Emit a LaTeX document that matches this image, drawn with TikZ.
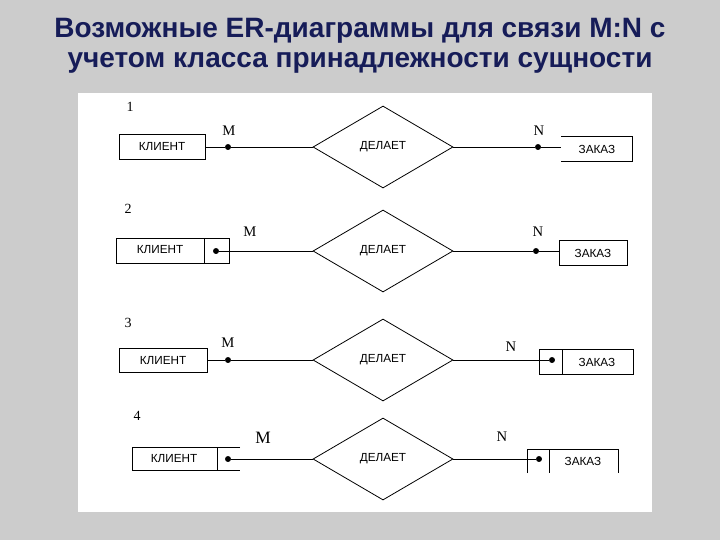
\documentclass[tikz,border=0pt]{standalone}
\usepackage{fontspec}
\setmainfont{Liberation Sans}
\newfontfamily\numfont{Liberation Serif}
\usetikzlibrary{shapes.geometric}
\definecolor{titleblue}{RGB}{22,28,88}
\definecolor{marble}{RGB}{204,204,204}

\begin{document}
\begin{tikzpicture}[x=0.75pt,y=-0.75pt,
	ent/.style={font=\fontsize{8.8}{10}\selectfont},
	rel/.style={diamond,draw,line width=0.6pt,minimum width=105pt,minimum height=61.5pt,inner sep=0pt,font=\fontsize{8.8}{10}\selectfont},
	dotpt/.style={circle,draw,fill,inner sep=0pt,minimum size=4pt},
	card/.style={font=\numfont\fontsize{11}{12}\selectfont},
	num/.style={font=\numfont\fontsize{10.5}{12}\selectfont},
	wire/.style={line width=0.6pt},
	heading/.style={font=\fontsize{21}{24}\bfseries\selectfont,text=titleblue}
]

	\useasboundingbox (0,0) rectangle (720,540);
	\fill[marble] (0,0) rectangle (720,540);
	\fill[white] (78,93) rectangle (652,512);

	\node[heading] at (360,31) (t1) {Возможные ER-диаграммы для связи M:N с};
	\node[heading] at (360,63) (t2) {учетом класса принадлежности сущности};

	\node[num] at (130,107) (n1) {1};
	\draw[wire] (119,134) rectangle (205,159);
	\node[ent] at (162,147) (k1) {КЛИЕНТ};
	\coordinate (k1e) at (205,147);
	\node[dotpt] at (228,147) (dm1) {};
	\node[card] at (229,131) (cm1) {M};
	\node[rel] at (383,147) (r1) {ДЕЛАЕТ};
	\node[dotpt] at (538,147) (dn1) {};
	\node[card] at (539,131) (cn1) {N};
	\coordinate (z1w) at (561,147);
	\draw[wire] (561,136) -- (632,136) -- (632,161) -- (561,161);
	\node[ent] at (597,149) (z1) {ЗАКАЗ};
	\draw[wire] (k1e) -- (dm1) -- (r1.west);
	\draw[wire] (r1.east) -- (dn1) -- (z1w);

	\node[num] at (128,209) (n2) {2};
	\draw[wire] (116,238) rectangle (229,263);
	\draw[wire] (204,238) -- (204,263);
	\node[ent] at (160,250) (k2) {КЛИЕНТ};
	\node[dotpt] at (216,251) (dm2) {};
	\node[card] at (250,232) (cm2) {M};
	\node[rel] at (383,251) (r2) {ДЕЛАЕТ};
	\node[dotpt] at (536,251) (dn2) {};
	\node[card] at (538,232) (cn2) {N};
	\coordinate (z2w) at (559,251);
	\draw[wire] (559,240) rectangle (627,265);
	\node[ent] at (593,253) (z2) {ЗАКАЗ};
	\draw[wire] (dm2) -- (r2.west);
	\draw[wire] (r2.east) -- (dn2) -- (z2w);

	\node[num] at (128,323) (n3) {3};
	\draw[wire] (119,348) rectangle (207,372);
	\node[ent] at (163,360) (k3) {КЛИЕНТ};
	\coordinate (k3e) at (207,360);
	\node[dotpt] at (228,360) (dm3) {};
	\node[card] at (228,343) (cm3) {M};
	\node[rel] at (383,360) (r3) {ДЕЛАЕТ};
	\node[dotpt] at (552,360) (dn3) {};
	\node[card] at (511,347) (cn3) {N};
	\draw[wire] (539,349) rectangle (633,374);
	\draw[wire] (562,349) -- (562,374);
	\node[ent] at (597,362) (z3) {ЗАКАЗ};
	\draw[wire] (k3e) -- (dm3) -- (r3.west);
	\draw[wire] (r3.east) -- (dn3);

	\node[num] at (137,416) (n4) {4};
	\draw[wire] (240,447) -- (132,447) -- (132,470) -- (240,470);
	\draw[wire] (217,447) -- (217,470);
	\node[ent] at (174,458) (k4) {КЛИЕНТ};
	\node[dotpt] at (228,459) (dm4) {};
	\node[card,font=\numfont\fontsize{13}{14}\selectfont] at (263,438) (cm4) {M};
	\node[rel] at (383,459) (r4) {ДЕЛАЕТ};
	\node[dotpt] at (539,459) (dn4) {};
	\node[card] at (502,437) (cn4) {N};
	\draw[wire] (527,473) -- (527,449) -- (618,449) -- (618,473);
	\draw[wire] (549,449) -- (549,473);
	\node[ent] at (583,461) (z4) {ЗАКАЗ};
	\draw[wire] (dm4) -- (r4.west);
	\draw[wire] (r4.east) -- (dn4);

\end{tikzpicture}
\end{document}
